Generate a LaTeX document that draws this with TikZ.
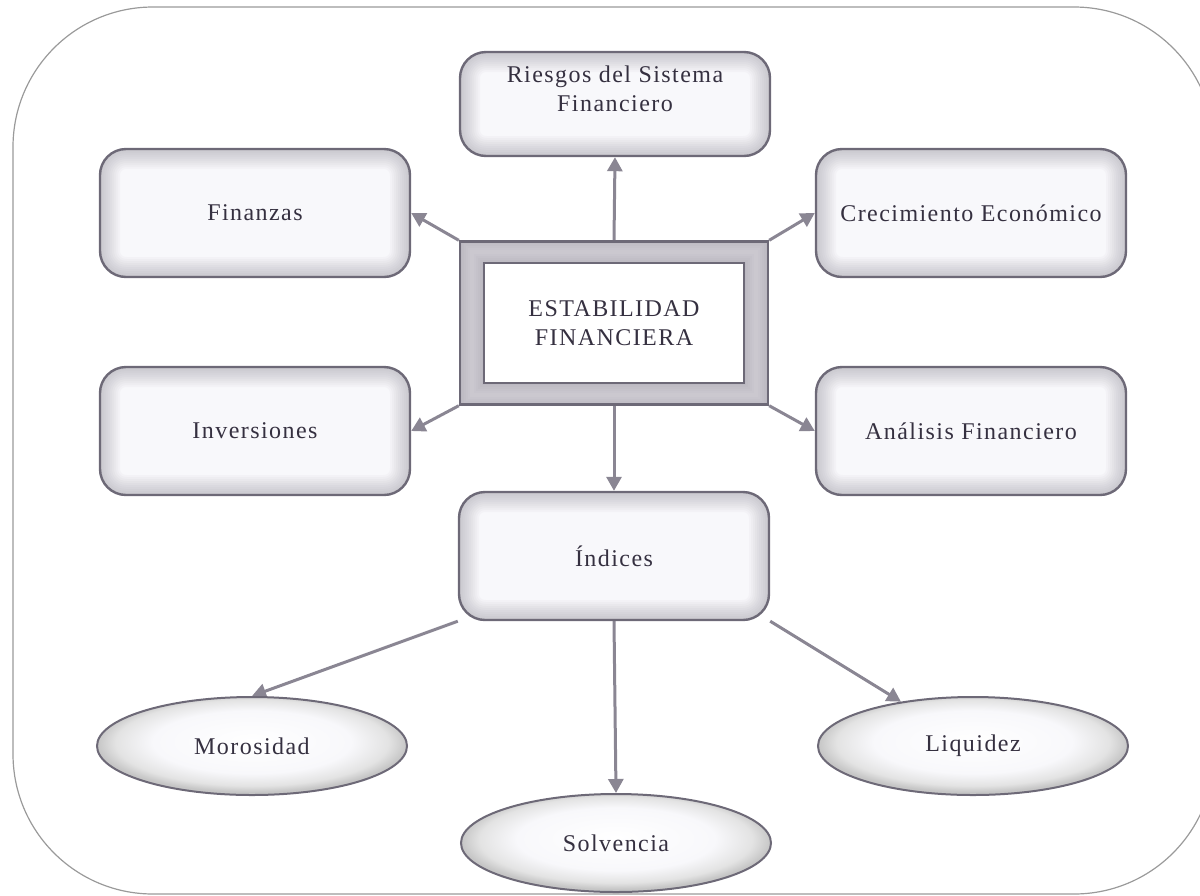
\documentclass[tikz,border=0pt]{standalone}
\usepackage{fontspec}
\setmainfont{Liberation Serif}[LetterSpace=6]
\usepackage{tikz}
\usetikzlibrary{arrows.meta, shapes.geometric, backgrounds}

\definecolor{txtcol}{HTML}{353040}
\definecolor{edgecol}{HTML}{6D6977}
\definecolor{arrcol}{HTML}{8A8693}
\definecolor{framecol}{HTML}{9A9A9A}
\definecolor{boxfill}{HTML}{F8F8FB}
\definecolor{bandcol}{HTML}{B3B0BA}

\pgfdeclareradialshading{ovalshade}{\pgfpoint{0bp}{3bp}}{%
  color(0bp)=(white); color(16bp)=(boxfill); color(22bp)=(gray!22);
  color(25bp)=(gray!45); color(50bp)=(gray!45)}

\begin{document}
\begin{tikzpicture}[x=0.5pt, y=-0.5pt,
        every node/.style = {text=txtcol, align=center,
          font=\fontsize{12}{14.5}\selectfont},
        box/.style = {shape=rectangle, rounded corners=13pt, draw=edgecol,
          line width=1.2pt, fill=boxfill,
          minimum width=155pt, minimum height=64pt,
          path picture={
            \foreach \w in {20,18,...,2}
              \draw[line width=\w pt, draw=edgecol, opacity=0.035, rounded corners=13pt]
                (path picture bounding box.south west) rectangle
                (path picture bounding box.north east);}},
        oval/.style = {shape=ellipse, draw=edgecol, line width=1pt,
          shading=ovalshade, minimum width=155pt, minimum height=49pt},
        link/.style = {draw=arrcol, line width=1.5pt,
          -{Triangle[length=7pt, width=7.5pt]}}]
  \useasboundingbox (0,0) rectangle (1200,895);
  \draw[framecol, line width=0.6pt, rounded corners=70pt] (13,7) rectangle (1214,894);

  % centre
  \node[shape=rectangle, draw=edgecol, line width=1.2pt, fill=bandcol,
        minimum width=154pt, minimum height=81.5pt,
        path picture={
          \foreach \w in {14,12,...,2}
            \draw[line width=\w pt, draw=white, opacity=0.06]
              ([shift={(6pt,-5pt)}]path picture bounding box.north west) rectangle
              ([shift={(-6pt,5pt)}]path picture bounding box.south east);}]
        (estab) at (614,323) {};
  \node[shape=rectangle, draw=edgecol, line width=1.3pt, fill=white,
        minimum width=130pt, minimum height=60pt] (estabin) at (614,323)
        {ESTABILIDAD\\FINANCIERA};

  \node[box, minimum height=52pt, text depth=15pt] (ries) at (615,104) {Riesgos del Sistema\\Financiero};
  \node[box] (fin) at (255,213) {Finanzas};
  \node[box] (crec) at (971,213) {Crecimiento Económico};
  \node[box] (inv) at (255,431) {Inversiones};
  \node[box] (anal) at (971,431) {Análisis Financiero};
  \node[box] (ind) at (614,556) {Índices};

  \node[oval] (moro) at (252,746) {Morosidad};
  \node[oval] (solv) at (616,843) {Solvencia};
  \node[oval] (liq) at (973,746) {Liquidez};

  \begin{scope}[on background layer]
    \draw[link] (estab.north) -- (ries.south);
    \draw[link] (estab.north west) -- (fin.east);
    \draw[link] (estab.north east) -- (crec.west);
    \draw[link] (estab.south west) -- (inv.east);
    \draw[link] (estab.south east) -- (anal.west);
    \draw[link] (estab.south) -- (ind.north);
    \draw[link] (ind.south west) -- (moro.north);
    \draw[link] (ind.south) -- (solv.north);
    \draw[link] (ind.south east) -- (liq);
  \end{scope}
\end{tikzpicture}
\end{document}
